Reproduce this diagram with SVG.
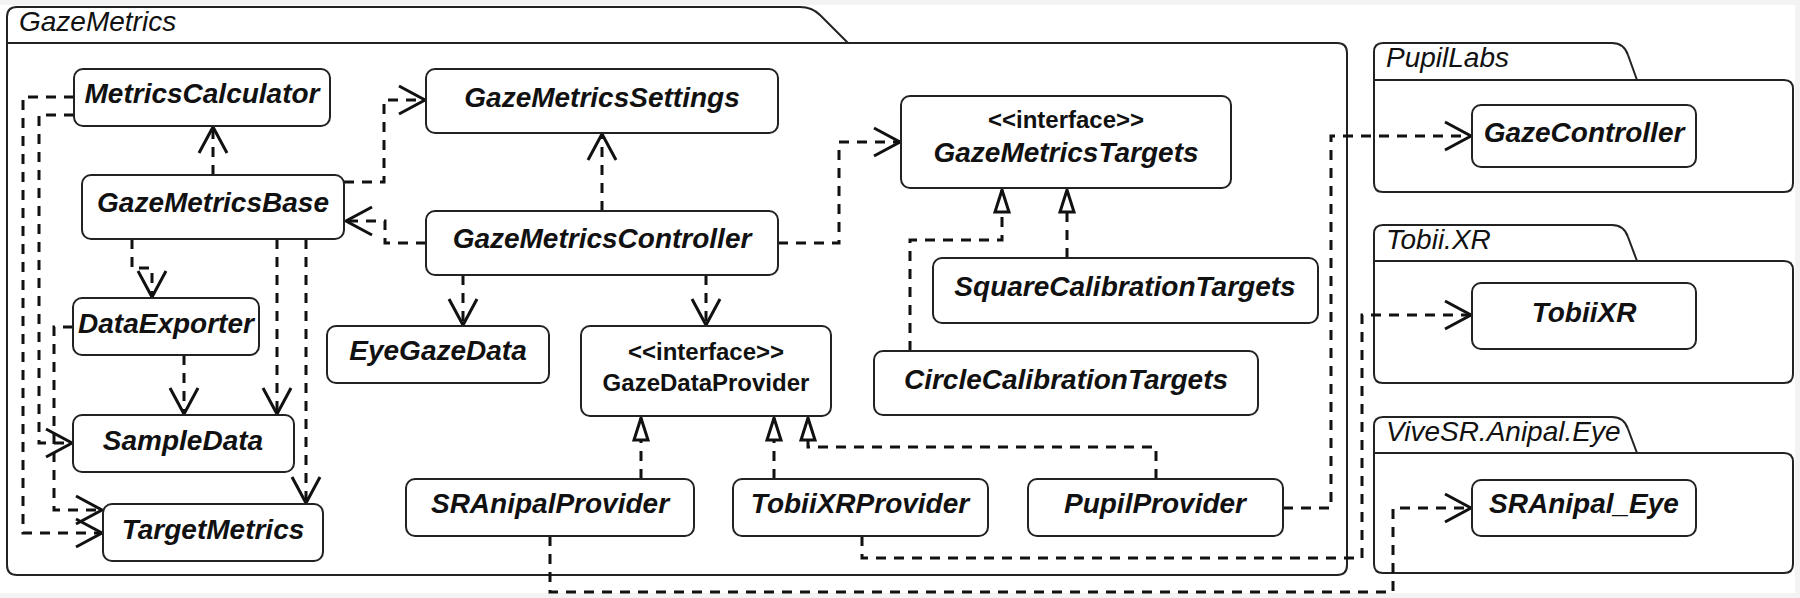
<svg xmlns="http://www.w3.org/2000/svg" width="1800" height="598" viewBox="0 0 1800 598">
<defs>
<style>
.pkg{fill:none;stroke:#222;stroke-width:2}
.box{fill:#fff;stroke:#222;stroke-width:2}
.lbl{font-family:"Liberation Sans",Arial,sans-serif;font-style:italic;font-size:28px;fill:#111}
.nt{font-family:"Liberation Sans",Arial,sans-serif;font-style:italic;font-weight:bold;font-size:28px;fill:#111;text-anchor:middle}
.st{font-family:"Liberation Sans",Arial,sans-serif;font-weight:bold;font-size:24px;fill:#111;text-anchor:middle}
.dep{fill:none;stroke:#111;stroke-width:3;stroke-dasharray:10 8}
.dep-open{marker-end:url(#open)}
.dep-real{marker-end:url(#real)}
</style>
<marker id="open" markerUnits="userSpaceOnUse" viewBox="-30 -18 34 36" refX="0" refY="0" markerWidth="34" markerHeight="36" orient="auto" overflow="visible">
<path d="M-26,-14 L0,0 L-26,14" fill="none" stroke="#111" stroke-width="3" stroke-dasharray="none"/>
</marker>
<marker id="real" markerUnits="userSpaceOnUse" viewBox="-26 -12 30 24" refX="0" refY="0" markerWidth="30" markerHeight="24" orient="auto" overflow="visible">
<path d="M0,0 L-22,-7 L-22,7 Z" fill="#fff" stroke="#111" stroke-width="3" stroke-dasharray="none"/>
</marker>
</defs>
<rect x="0" y="0" width="1800" height="598" fill="#f3f3f3"/>
<rect x="0" y="5" width="1795" height="588" fill="#fff"/>

<g id="pkg-GazeMetrics">
<path class="pkg" d="M7,43 L1337,43 Q1347,43 1347,53 L1347,565 Q1347,575 1337,575 L17,575 Q7,575 7,565 Z"/>
<path class="pkg" d="M7,43 L7,17 Q7,7 17,7 L800,7 Q812,7 820,15 L848,43"/>
<text class="lbl" x="19" y="31">GazeMetrics</text>
</g>
<g id="pkg-PupilLabs">
<path class="pkg" d="M1374,80 L1784,80 Q1793,80 1793,89 L1793,183 Q1793,192 1784,192 L1383,192 Q1374,192 1374,183 Z"/>
<path class="pkg" d="M1374,80 L1374,52 Q1374,43 1383,43 L1612,43 Q1624,43 1628,55 L1637,80"/>
<text class="lbl" x="1386" y="67">PupilLabs</text>
</g>
<g id="pkg-TobiiXR">
<path class="pkg" d="M1374,261 L1784,261 Q1793,261 1793,270 L1793,374 Q1793,383 1784,383 L1383,383 Q1374,383 1374,374 Z"/>
<path class="pkg" d="M1374,261 L1374,234 Q1374,225 1383,225 L1612,225 Q1624,225 1628,237 L1637,261"/>
<text class="lbl" x="1386" y="249">Tobii.XR</text>
</g>
<g id="pkg-ViveSR">
<path class="pkg" d="M1374,453 L1784,453 Q1793,453 1793,462 L1793,564 Q1793,573 1784,573 L1383,573 Q1374,573 1374,564 Z"/>
<path class="pkg" d="M1374,453 L1374,426 Q1374,417 1383,417 L1612,417 Q1624,417 1628,429 L1637,453"/>
<text class="lbl" x="1386" y="441">ViveSR.Anipal.Eye</text>
</g>

<g id="connectors">
<path class="dep dep-open" d="M213,175 L213,127"/>
<path class="dep dep-open" d="M344,182 L384,182 L384,100 L425,100"/>
<path class="dep dep-open" d="M426,243 L385,243 L385,221 L346,221"/>
<path class="dep dep-open" d="M602,211 L602,134"/>
<path class="dep dep-open" d="M778,243 L839,243 L839,142 L900,142"/>
<path class="dep dep-open" d="M463,275 L463,325"/>
<path class="dep dep-open" d="M706,275 L706,325"/>
<path class="dep dep-open" d="M132,239 L132,268 L152,268 L152,297"/>
<path class="dep dep-open" d="M277,239 L277,414"/>
<path class="dep dep-open" d="M306,239 L306,503"/>
<path class="dep dep-open" d="M184,355 L184,414"/>
<path class="dep dep-open" d="M73,327 L54,327 L54,510 L102,510"/>
<path class="dep dep-open" d="M74,97 L23,97 L23,533 L102,533"/>
<path class="dep dep-open" d="M74,115 L39,115 L39,443 L72,443"/>
<path class="dep dep-real" d="M910,351 L910,240 L1002,240 L1002,190"/>
<path class="dep dep-real" d="M1067,258 L1067,190"/>
<path class="dep dep-real" d="M641,479 L641,418"/>
<path class="dep dep-real" d="M774,479 L774,418"/>
<path class="dep dep-real" d="M1156,479 L1156,447 L808,447 L808,418"/>
<path class="dep dep-open" d="M1283,508 L1331,508 L1331,136 L1471,136"/>
<path class="dep dep-open" d="M862,536 L862,558 L1362,558 L1362,315 L1471,315"/>
<path class="dep dep-open" d="M550,536 L550,592 L1393,592 L1393,508 L1471,508"/>
</g>

<g id="MetricsCalculator"><rect class="box" x="74" y="69" width="256" height="57" rx="9"/><text class="nt" x="202" y="103">MetricsCalculator</text></g>
<g id="GazeMetricsBase"><rect class="box" x="82" y="175" width="262" height="64" rx="9"/><text class="nt" x="213" y="212">GazeMetricsBase</text></g>
<g id="DataExporter"><rect class="box" x="73" y="298" width="186" height="57" rx="9"/><text class="nt" x="166" y="333">DataExporter</text></g>
<g id="SampleData"><rect class="box" x="73" y="415" width="221" height="57" rx="9"/><text class="nt" x="183" y="450">SampleData</text></g>
<g id="TargetMetrics"><rect class="box" x="103" y="504" width="220" height="57" rx="9"/><text class="nt" x="213" y="539">TargetMetrics</text></g>
<g id="GazeMetricsSettings"><rect class="box" x="426" y="69" width="352" height="64" rx="9"/><text class="nt" x="602" y="107">GazeMetricsSettings</text></g>
<g id="GazeMetricsController"><rect class="box" x="426" y="211" width="352" height="64" rx="9"/><text class="nt" x="602" y="248">GazeMetricsController</text></g>
<g id="EyeGazeData"><rect class="box" x="327" y="326" width="222" height="57" rx="9"/><text class="nt" x="438" y="360">EyeGazeData</text></g>
<g id="GazeDataProvider"><rect class="box" x="581" y="326" width="250" height="90" rx="9"/><text class="st" x="706" y="360">&lt;&lt;interface&gt;&gt;</text><text class="st" x="706" y="391">GazeDataProvider</text></g>
<g id="GazeMetricsTargets"><rect class="box" x="901" y="96" width="330" height="92" rx="9"/><text class="st" x="1066" y="128">&lt;&lt;interface&gt;&gt;</text><text class="nt" x="1066" y="162">GazeMetricsTargets</text></g>
<g id="SquareCalibrationTargets"><rect class="box" x="933" y="258" width="385" height="65" rx="9"/><text class="nt" x="1125" y="296">SquareCalibrationTargets</text></g>
<g id="CircleCalibrationTargets"><rect class="box" x="874" y="351" width="384" height="64" rx="9"/><text class="nt" x="1066" y="389">CircleCalibrationTargets</text></g>
<g id="SRAnipalProvider"><rect class="box" x="406" y="479" width="288" height="57" rx="9"/><text class="nt" x="550" y="513">SRAnipalProvider</text></g>
<g id="TobiiXRProvider"><rect class="box" x="733" y="479" width="255" height="57" rx="9"/><text class="nt" x="860" y="513">TobiiXRProvider</text></g>
<g id="PupilProvider"><rect class="box" x="1028" y="479" width="255" height="57" rx="9"/><text class="nt" x="1155" y="513">PupilProvider</text></g>
<g id="GazeController"><rect class="box" x="1472" y="105" width="224" height="62" rx="9"/><text class="nt" x="1584" y="142">GazeController</text></g>
<g id="TobiiXR"><rect class="box" x="1472" y="283" width="224" height="66" rx="9"/><text class="nt" x="1584" y="322">TobiiXR</text></g>
<g id="SRAnipal_Eye"><rect class="box" x="1472" y="480" width="224" height="56" rx="9"/><text class="nt" x="1584" y="513">SRAnipal_Eye</text></g>
</svg>
